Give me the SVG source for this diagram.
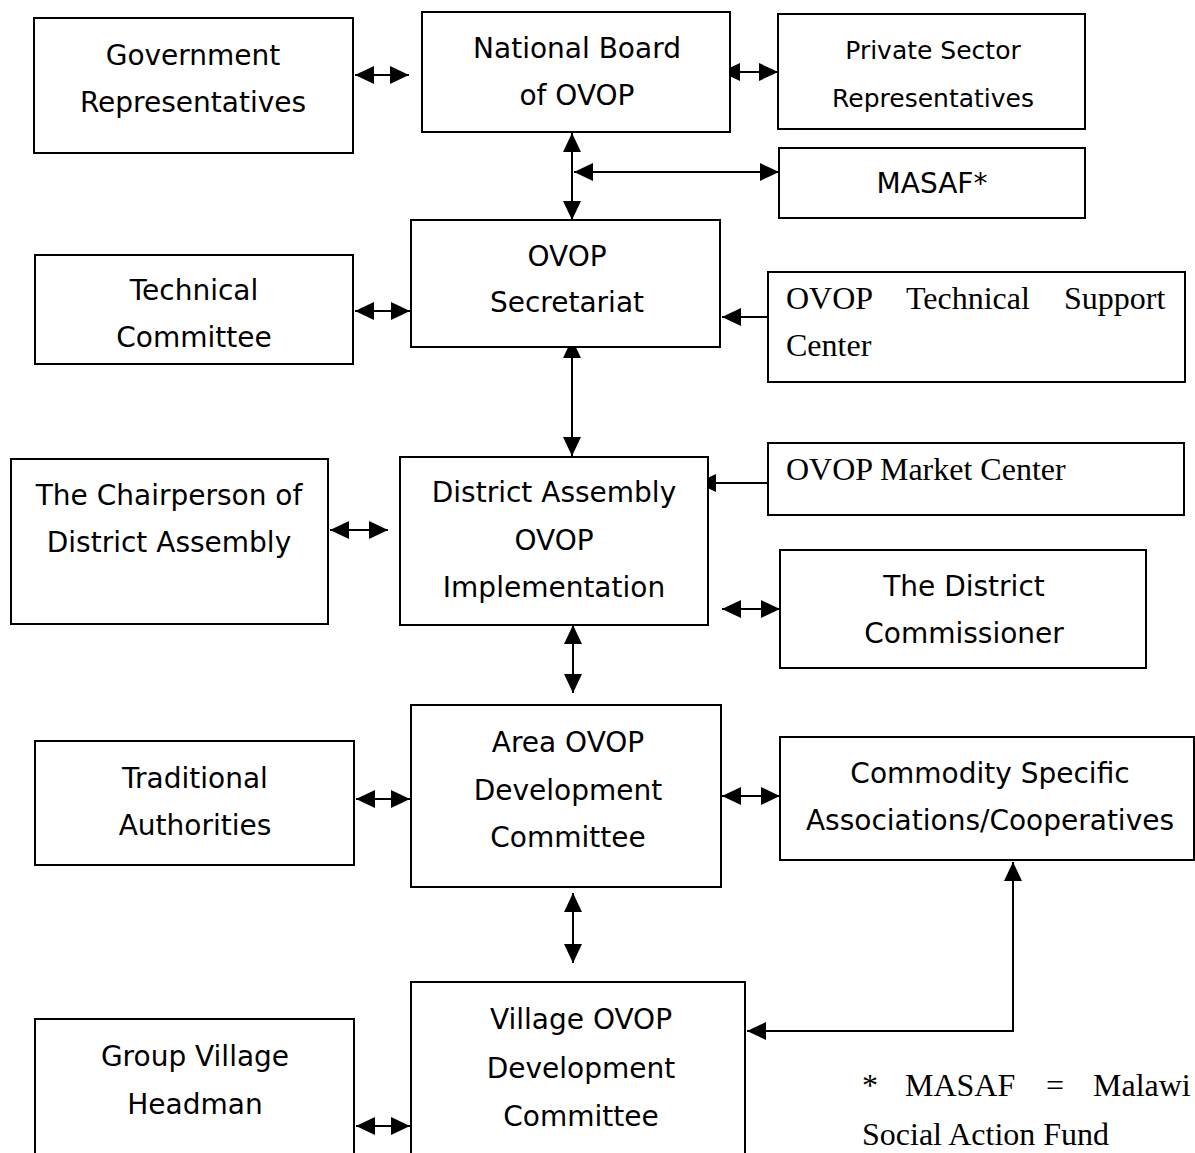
<svg xmlns="http://www.w3.org/2000/svg" width="1195" height="1153" viewBox="0 0 1195 1153">
<style>
.box{fill:#fff;stroke:#000;stroke-width:2}
.s{font-family:"DejaVu Sans",Verdana,sans-serif;font-size:28px;fill:#000;text-anchor:middle}
.sm{font-size:25px}
.r{font-family:"Liberation Serif","Times New Roman",serif;font-size:32px;fill:#000}
.c{fill:none;stroke:#000;stroke-width:2}
</style>
<defs>
<marker id="ah" markerUnits="userSpaceOnUse" markerWidth="20" markerHeight="20" refX="19" refY="10" orient="auto-start-reverse" viewBox="0 0 20 20">
<path d="M0,1 L19,10 L0,19 z" fill="#000"/>
</marker>
</defs>
<rect width="1195" height="1153" fill="#fff"/>
<g id="connectors">
<line class="c" x1="355" y1="75" x2="409" y2="75" marker-start="url(#ah)" marker-end="url(#ah)"/>
<line class="c" x1="721" y1="72" x2="778" y2="72" marker-start="url(#ah)" marker-end="url(#ah)"/>
<line class="c" x1="572" y1="133" x2="572" y2="220" marker-start="url(#ah)" marker-end="url(#ah)"/>
<line class="c" x1="574" y1="172" x2="779" y2="172" marker-start="url(#ah)" marker-end="url(#ah)"/>
<line class="c" x1="355" y1="311" x2="410" y2="311" marker-start="url(#ah)" marker-end="url(#ah)"/>
<line class="c" x1="768" y1="317" x2="722" y2="317" marker-end="url(#ah)"/>
<line class="c" x1="572" y1="339" x2="572" y2="456" marker-start="url(#ah)" marker-end="url(#ah)"/>
<line class="c" x1="768" y1="483" x2="697" y2="483" marker-end="url(#ah)"/>
<line class="c" x1="330" y1="530" x2="388" y2="530" marker-start="url(#ah)" marker-end="url(#ah)"/>
<line class="c" x1="722" y1="609" x2="780" y2="609" marker-start="url(#ah)" marker-end="url(#ah)"/>
<line class="c" x1="573" y1="625" x2="573" y2="693" marker-start="url(#ah)" marker-end="url(#ah)"/>
<line class="c" x1="356" y1="799" x2="410" y2="799" marker-start="url(#ah)" marker-end="url(#ah)"/>
<line class="c" x1="722" y1="796" x2="780" y2="796" marker-start="url(#ah)" marker-end="url(#ah)"/>
<line class="c" x1="573" y1="893" x2="573" y2="963" marker-start="url(#ah)" marker-end="url(#ah)"/>
<polyline class="c" points="1013,862 1013,1031 747,1031" marker-start="url(#ah)" marker-end="url(#ah)"/>
<line class="c" x1="356" y1="1126" x2="410" y2="1126" marker-start="url(#ah)" marker-end="url(#ah)"/>
</g>
<g id="gov"><rect class="box" x="34" y="18" width="319" height="135"/><text class="s" x="193" y="65">Government</text><text class="s" x="193" y="112">Representatives</text></g>
<g id="board"><rect class="box" x="422" y="12" width="308" height="120"/><text class="s" x="577" y="58">National Board</text><text class="s" x="577" y="105">of OVOP</text></g>
<g id="private"><rect class="box" x="778" y="14" width="307" height="115"/><text class="s sm" x="933" y="59">Private Sector</text><text class="s sm" x="933" y="107">Representatives</text></g>
<g id="masaf"><rect class="box" x="779" y="148" width="306" height="70"/><text class="s" x="932" y="193">MASAF*</text></g>
<g id="secretariat"><rect class="box" x="411" y="220" width="309" height="127"/><text class="s" x="567" y="266">OVOP</text><text class="s" x="567" y="312">Secretariat</text></g>
<g id="technical"><rect class="box" x="35" y="255" width="318" height="109"/><text class="s" x="194" y="300">Technical</text><text class="s" x="194" y="347">Committee</text></g>
<g id="tsc"><rect class="box" x="768" y="272" width="417" height="110"/><text class="r" y="309"><tspan x="786">OVOP</tspan><tspan x="906">Technical</tspan><tspan x="1064">Support</tspan></text><text class="r" x="786" y="356">Center</text></g>
<g id="chair"><rect class="box" x="11" y="459" width="317" height="165"/><text class="s" x="169" y="505">The Chairperson of</text><text class="s" x="169" y="552">District Assembly</text></g>
<g id="district"><rect class="box" x="400" y="457" width="308" height="168"/><text class="s" x="554" y="502">District Assembly</text><text class="s" x="554" y="550">OVOP</text><text class="s" x="554" y="597">Implementation</text></g>
<g id="market"><rect class="box" x="768" y="443" width="416" height="72"/><text class="r" x="786" y="480">OVOP Market Center</text></g>
<g id="commissioner"><rect class="box" x="780" y="550" width="366" height="118"/><text class="s" x="964" y="596">The District</text><text class="s" x="964" y="643">Commissioner</text></g>
<g id="traditional"><rect class="box" x="35" y="741" width="319" height="124"/><text class="s" x="195" y="788">Traditional</text><text class="s" x="195" y="835">Authorities</text></g>
<g id="area"><rect class="box" x="411" y="705" width="310" height="182"/><text class="s" x="568" y="752">Area OVOP</text><text class="s" x="568" y="800">Development</text><text class="s" x="568" y="847">Committee</text></g>
<g id="commodity"><rect class="box" x="780" y="737" width="414" height="123"/><text class="s" x="990" y="783">Commodity Specific</text><text class="s" x="990" y="830">Associations/Cooperatives</text></g>
<g id="groupvillage"><rect class="box" x="35" y="1019" width="319" height="145"/><text class="s" x="195" y="1066">Group Village</text><text class="s" x="195" y="1114">Headman</text></g>
<g id="village"><rect class="box" x="411" y="982" width="334" height="182"/><text class="s" x="581" y="1029">Village OVOP</text><text class="s" x="581" y="1078">Development</text><text class="s" x="581" y="1126">Committee</text></g>
<g id="footnote"><text class="r" y="1096"><tspan x="862">*</tspan><tspan x="905">MASAF</tspan><tspan x="1046">=</tspan><tspan x="1093">Malawi</tspan></text><text class="r" x="862" y="1145">Social Action Fund</text></g>
</svg>
